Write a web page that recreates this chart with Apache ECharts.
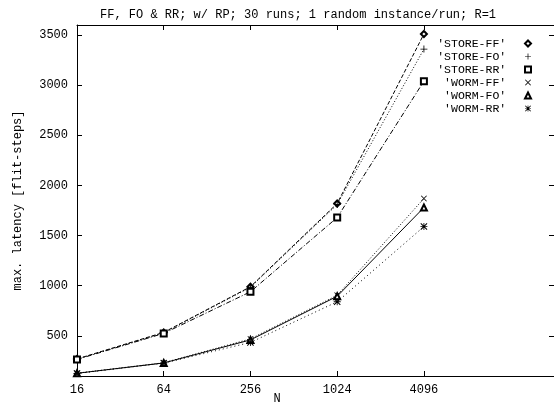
<!DOCTYPE html>
<html>
<head>
<meta charset="utf-8">
<script src="https://cdn.jsdelivr.net/npm/echarts@6/dist/echarts.min.js"></script>
<style>html,body{margin:0;padding:0;background:#fff;}#c{width:554px;height:406px;}</style>
</head>
<body>
<div id="c"></div>
<script>
const titleText = "FF, FO & RR; w/ RP; 30 runs; 1 random instance/run; R=1";
const xName = "N";
const yName = "max. latency [flit-steps]";
const nValues = [16, 64, 256, 1024, 4096];
const xTicks = [16, 64, 256, 1024, 4096];
const yTicks = [500, 1000, 1500, 2000, 2500, 3000, 3500];
const seriesNames = ["'STORE-FF'", "'STORE-FO'", "'STORE-RR'", "'WORM-FF'", "'WORM-FO'", "'WORM-RR'"];
const storeFF = [270, 535, 990, 1820, 3510];
const storeFO = [268, 530, 985, 1810, 3360];
const storeRR = [265, 525, 940, 1680, 3040];
const wormFF = [128, 232, 470, 905, 1870];
const wormFO = [127, 230, 460, 895, 1780];
const wormRR = [125, 228, 435, 840, 1590];

const allValues = [storeFF, storeFO, storeRR, wormFF, wormFO, wormRR];
const FONT = "Liberation Mono";
const plusPath = 'path://M4.4,0h1.2v10h-1.2zM0,4.4h10v1.2h-10z';
const crossPath = 'path://M0,1L1,0L10,9L9,10zM9,0L10,1L1,10L0,9z';
const starPath = 'path://M0,1L1,0L10,9L9,10zM9,0L10,1L1,10L0,9zM4.4,0h1.2v10h-1.2zM0,4.4h10v1.2h-10z';
const symbols = ['emptyDiamond', plusPath, 'emptyRect', crossPath, 'emptyTriangle', starPath];
const symSizes = [6, 7, 6, 6, 6, 7];
const dashes = [[4, 2], [1, 2], [5, 2, 1, 2], [1, 2], 'solid', [1, 3]];

const series = seriesNames.map((name, i) => ({
  name: name,
  type: 'line',
  xAxisIndex: 0,
  yAxisIndex: 0,
  data: nValues.map((n, j) => [n, allValues[i][j]]),
  symbol: symbols[i],
  symbolSize: symSizes[i],
  showAllSymbol: true,
  color: '#000',
  itemStyle: { color: '#000', borderWidth: 1 },
  lineStyle: { color: '#000', width: 1, type: dashes[i] },
  emphasis: { disabled: true },
  animation: false,
  z: 2
}));

const chart = echarts.init(document.getElementById('c'), null, { renderer: 'canvas' });
const axisCommon = {
  axisLine: { show: true, lineStyle: { color: '#000', width: 1 } },
  splitLine: { show: false },
};
chart.setOption({
  animation: false,
  backgroundColor: '#fff',
  textStyle: { fontFamily: FONT },
  title: [
    { text: titleText, left: 95, top: 4, textStyle: { fontFamily: FONT, fontSize: 12, fontWeight: 'normal', color: '#000' } },
    { text: xName, left: 'center', top: 388, textStyle: { fontFamily: FONT, fontSize: 12, fontWeight: 'normal', color: '#000' } }
  ],
  grid: { left: 77, right: -2, top: 25, bottom: 30, containLabel: false },
  legend: {
    orient: 'vertical',
    right: 17,
    top: 32,
    align: 'right',
    itemWidth: 6,
    itemHeight: 6,
    itemGap: 0,
    selectedMode: false,
    textStyle: { fontFamily: FONT, fontSize: 11.5, color: '#000', lineHeight: 13 },
    formatter: function (n) { return (n.length < 10 ? ' ' + n : n) + '  '; },
    data: seriesNames.map((n, i) => ({ name: n, icon: symbols[i], itemStyle: { color: '#000', borderWidth: 1 } }))
  },
  xAxis: [
    Object.assign({}, axisCommon, {
      type: 'log', logBase: 2, min: 16, max: 32768, position: 'bottom',
      axisTick: { show: true, inside: true, length: 5, customValues: xTicks, lineStyle: { color: '#000' } },
      axisLabel: { show: true, customValues: xTicks, color: '#000', fontFamily: FONT, fontSize: 12, margin: 8, formatter: v => String(v) }
    }),
    Object.assign({}, axisCommon, {
      type: 'log', logBase: 2, min: 16, max: 32768, position: 'top',
      axisTick: { show: true, inside: true, length: 5, customValues: xTicks, lineStyle: { color: '#000' } },
      axisLabel: { show: false }
    })
  ],
  yAxis: [
    Object.assign({}, axisCommon, {
      type: 'value', min: 100, max: 3600, position: 'left',
      name: yName, nameLocation: 'middle', nameGap: 53, nameRotate: 90,
      nameTextStyle: { fontFamily: FONT, fontSize: 12, color: '#000' },
      axisTick: { show: true, inside: true, length: 5, customValues: yTicks, lineStyle: { color: '#000' } },
      axisLabel: { show: true, customValues: yTicks, color: '#000', fontFamily: FONT, fontSize: 12, margin: 9, formatter: v => String(v) }
    }),
    Object.assign({}, axisCommon, {
      type: 'value', min: 100, max: 3600, position: 'right',
      axisTick: { show: true, inside: true, length: 5, customValues: yTicks, lineStyle: { color: '#000' } },
      axisLabel: { show: false }
    })
  ],
  series: series
});
</script>
</body>
</html>
